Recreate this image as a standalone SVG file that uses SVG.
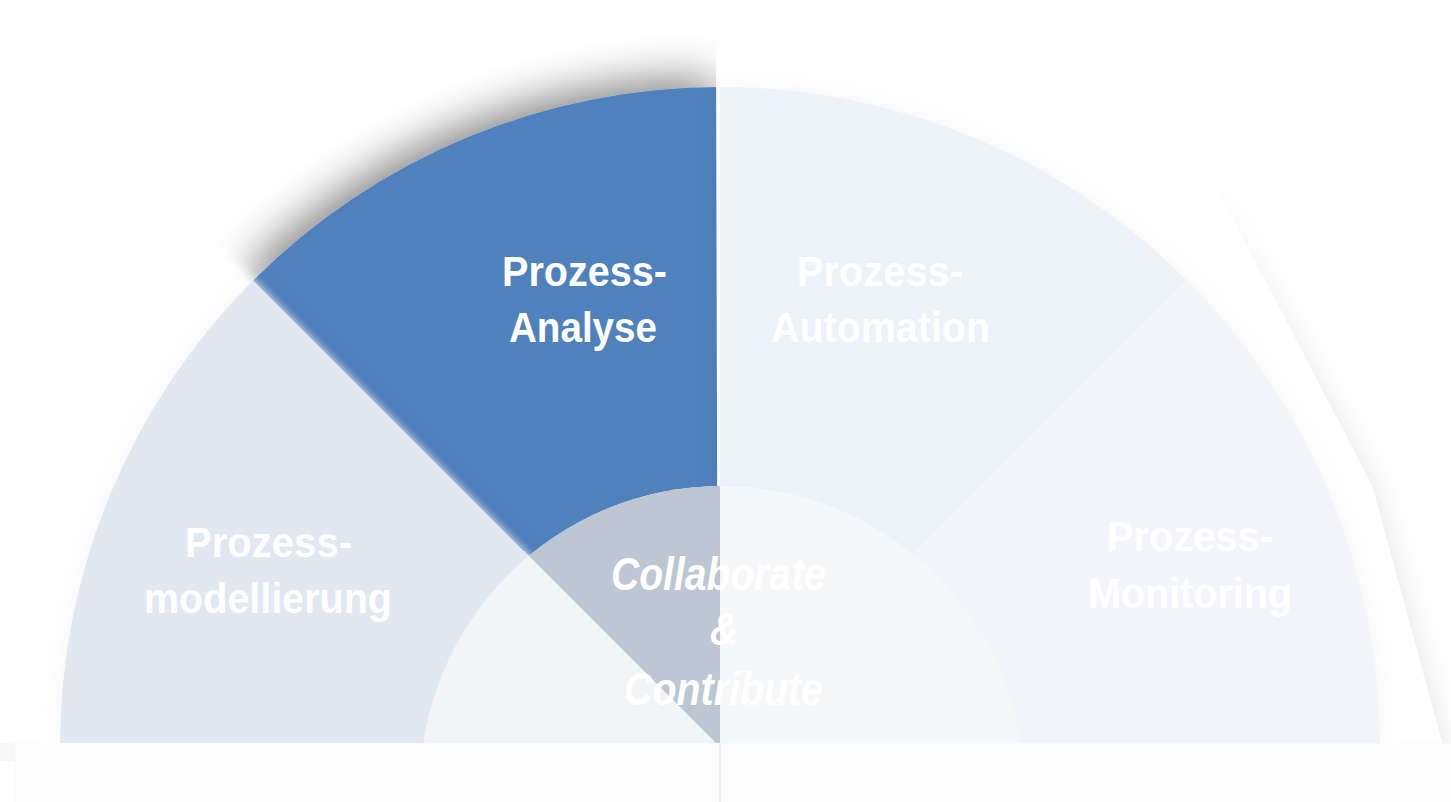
<svg xmlns="http://www.w3.org/2000/svg" width="1451" height="802" viewBox="0 0 1451 802">
  <defs>
    <style>
      .lbl { font-family: "Liberation Sans", Arial, sans-serif; font-weight: bold; font-size: 42px; fill: #FFFFFF; }
      .lbl-c { font-family: "Liberation Sans", Arial, sans-serif; font-weight: bold; font-style: italic; font-size: 46px; fill: #FFFFFF; }
    </style>
    <filter id="blueShadow" x="-30%" y="-30%" width="160%" height="160%">
      <feGaussianBlur in="SourceAlpha" stdDeviation="22"/>
      <feOffset dx="-8" dy="-10" result="b"/>
      <feComponentTransfer><feFuncA type="linear" slope="0.45"/></feComponentTransfer>
      <feMerge><feMergeNode/><feMergeNode in="SourceGraphic"/></feMerge>
    </filter>
    <filter id="soft" x="-20%" y="-20%" width="140%" height="140%">
      <feGaussianBlur stdDeviation="16"/>
    </filter>
    <filter id="soft3" x="-10%" y="-10%" width="120%" height="120%">
      <feGaussianBlur stdDeviation="4"/>
    </filter>
    <clipPath id="clipLeft"><rect x="0" y="0" width="720" height="743"/></clipPath>
    <clipPath id="clipRight"><rect x="720" y="0" width="731" height="743"/></clipPath>
    <clipPath id="clipBlue"><path d="M720,747 L253.3,280.3 L720,-200 Z"/></clipPath>
  </defs>

  <rect x="0" y="0" width="1451" height="802" fill="#FFFFFF"/>

  <!-- faint glow around the semicircle -->
  <path d="M60,747 A660,660 0 0 1 1380,747 Z" fill="#000000" opacity="0.05" filter="url(#soft)"/>

  <!-- Prozess-Analyse segment -->
  <g id="seg-analyse">
    <path d="M720,747 L253.3,280.3 A660,660 0 0 1 720,87 Z" fill="#4F81BD" filter="url(#blueShadow)"/>
  </g>

  <!-- white cover left of divider -->
  <path d="M720,747 L180,207 L0,207 L0,747 Z" fill="#FFFFFF" filter="url(#soft3)"/>
  <path d="M60,747 A660,660 0 0 1 253.3,280.3 L720,747 Z" fill="#000000" opacity="0.04" filter="url(#soft)"/>

  <!-- Prozess-modellierung segment -->
  <g id="seg-modellierung">
    <path d="M720,747 L60,747 A660,660 0 0 1 253.3,280.3 Z" fill="#E1E8F1"/>
  </g>
  <line x1="253.3" y1="280.3" x2="524" y2="551" stroke="#3E6AA0" stroke-width="1" opacity="0.35"/>

  <!-- right overlay shadow and cover -->
  <path d="M1200,170 L1372,485 L1447,760 L1447,802 L1380,802 L1330,500 Z" fill="#000000" opacity="0.1" filter="url(#soft)"/>
  <path d="M721,5 L1110,5 L1226,205 L1372,485 L1447,760 L1447,802 L718,802 L716,50 Z" fill="#FFFFFF"/>
  <path d="M720,747 L720,87 A660,660 0 0 1 1380,747 Z" fill="#000000" opacity="0.04" filter="url(#soft)"/>

  <!-- Prozess-Automation segment -->
  <g id="seg-automation">
    <path d="M720,747 L720,87 A660,660 0 0 1 1186.7,280.3 Z" fill="#EDF1F8"/>
  </g>

  <!-- Prozess-Monitoring segment -->
  <g id="seg-monitoring">
    <path d="M720,747 L1186.7,280.3 A660,660 0 0 1 1380,747 Z" fill="#F3F5FA"/>
  </g>

  <!-- centre circle -->
  <g id="center-collab">
    <circle cx="722" cy="788" r="302" fill="#F3F4F6" clip-path="url(#clipLeft)"/>
    <circle cx="722" cy="788" r="302" fill="#BCC7D3" clip-path="url(#clipBlue)"/>
    <circle cx="722" cy="788" r="302" fill="#F6F7F9" clip-path="url(#clipRight)"/>
  </g>

  <!-- bottom band -->
  <rect x="0" y="743" width="15" height="18" fill="#F8F8F8"/>
  <rect x="15" y="743" width="1436" height="59" fill="#FBFBFB"/>
  <line x1="720" y1="743" x2="720" y2="802" stroke="#ECECEF" stroke-width="2"/>

  <!-- labels -->
  <g id="labels">
    <text class="lbl" x="502" y="286" textLength="165" lengthAdjust="spacingAndGlyphs">Prozess-</text>
    <text class="lbl" x="509" y="342" textLength="148" lengthAdjust="spacingAndGlyphs">Analyse</text>
    <text class="lbl" x="797" y="286" textLength="166" lengthAdjust="spacingAndGlyphs">Prozess-</text>
    <text class="lbl" x="771" y="342" textLength="219" lengthAdjust="spacingAndGlyphs">Automation</text>
    <text class="lbl" x="185" y="557" textLength="167" lengthAdjust="spacingAndGlyphs">Prozess-</text>
    <text class="lbl" x="144" y="613" textLength="248" lengthAdjust="spacingAndGlyphs">modellierung</text>
    <text class="lbl" x="1107" y="551" textLength="166" lengthAdjust="spacingAndGlyphs">Prozess-</text>
    <text class="lbl" x="1088" y="608" textLength="204" lengthAdjust="spacingAndGlyphs">Monitoring</text>
    <text class="lbl-c" x="611" y="590" textLength="215" lengthAdjust="spacingAndGlyphs">Collaborate</text>
    <text class="lbl-c" x="710" y="645" textLength="28" lengthAdjust="spacingAndGlyphs">&amp;</text>
    <text class="lbl-c" x="624" y="705" textLength="199" lengthAdjust="spacingAndGlyphs">Contribute</text>
  </g>
</svg>
